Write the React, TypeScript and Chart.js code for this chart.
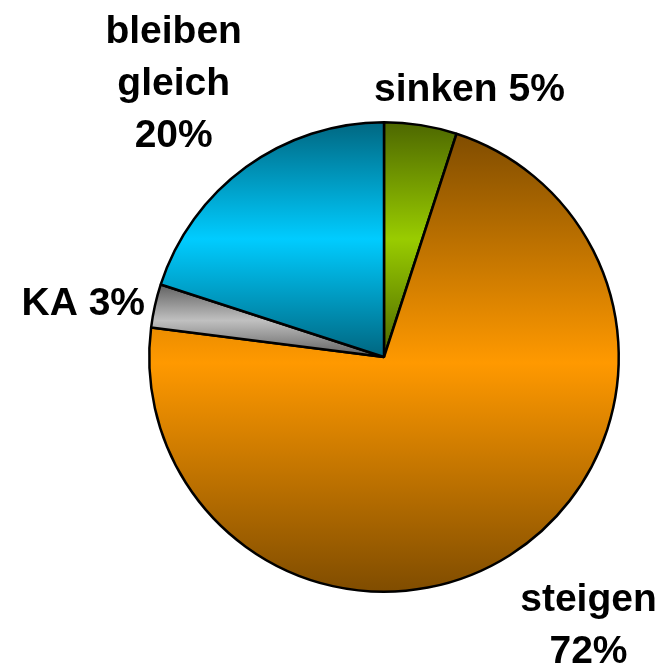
import React, { useEffect, useRef } from "react";
import { Chart, registerables } from "chart.js";

Chart.register(...registerables);

// ---- data ----
const categories = ["sinken", "steigen", "KA", "bleiben gleich"];
const values = [5, 72, 3, 20];
const labelLines = [["sinken 5%"], ["steigen", "72%"], ["KA 3%"], ["bleiben", "gleich", "20%"]];

// ---- styles ----
const brightColors = ["#99cc00", "#ff9900", "#c0c0c0", "#00ccff"];
const darkColors = ["#4c6600", "#7f4c00", "#606060", "#006680"];
// label anchor (centre x, first baseline y) relative to pie centre, in units of the radius
const labelAnchors = [
  [0.364, -1.091],
  [0.871, 1.082],
  [-1.281, -0.178],
  [-0.896, -1.336],
];
const LINE_HEIGHT = 52;
const FONT = "bold 39px 'Liberation Sans', Arial, sans-serif";

function sliceYRange(cy: number, r: number, a0: number, a1: number) {
  let yMin = Math.min(cy, cy + r * Math.sin(a0), cy + r * Math.sin(a1));
  let yMax = Math.max(cy, cy + r * Math.sin(a0), cy + r * Math.sin(a1));
  const inRange = (t: number) => {
    const twoPi = Math.PI * 2;
    let x = t;
    while (x < a0) x += twoPi;
    return x <= a1;
  };
  if (inRange(-Math.PI / 2)) yMin = cy - r;
  if (inRange(Math.PI / 2)) yMax = cy + r;
  return [yMin, yMax];
}

const labelPlugin = {
  id: "sliceLabels",
  afterDraw(chart: any) {
    const meta = chart.getDatasetMeta(0);
    const ctx = chart.ctx;
    ctx.save();
    ctx.font = FONT;
    ctx.fillStyle = "#000";
    ctx.textAlign = "center";
    ctx.textBaseline = "alphabetic";
    meta.data.forEach((el: any, i: number) => {
      const r = el.outerRadius;
      const x = el.x + labelAnchors[i][0] * r;
      const y = el.y + labelAnchors[i][1] * r;
      labelLines[i].forEach((line, j) => ctx.fillText(line, x, y + j * LINE_HEIGHT));
    });
    ctx.restore();
  },
};

export default function App() {
  const ref = useRef<HTMLCanvasElement | null>(null);
  useEffect(() => {
    if (!ref.current) return;
    const total = values.reduce((a, b) => a + b, 0);
    const chart = new Chart(ref.current, {
      type: "pie",
      data: {
        labels: categories,
        datasets: [
          {
            data: values,
            backgroundColor: (c: any) => {
              const i = c.dataIndex;
              if (i === undefined) return brightColors[0];
              const area = c.chart.chartArea;
              if (!area) return brightColors[i];
              const cx = (area.left + area.right) / 2;
              const cy = (area.top + area.bottom) / 2;
              const r = Math.min(area.right - area.left, area.bottom - area.top) / 2;
              let cum = 0;
              for (let k = 0; k < i; k++) cum += values[k];
              const a0 = -Math.PI / 2 + (cum / total) * Math.PI * 2;
              const a1 = a0 + (values[i] / total) * Math.PI * 2;
              const [y0, y1] = sliceYRange(cy, r, a0, a1);
              const g = c.chart.ctx.createLinearGradient(cx, y0, cx, y1);
              g.addColorStop(0, darkColors[i]);
              g.addColorStop(0.5, brightColors[i]);
              g.addColorStop(1, darkColors[i]);
              return g;
            },
            borderColor: "#000",
            borderWidth: 2.5,
            hoverOffset: 0,
          },
        ],
      },
      options: {
        animation: false,
        responsive: true,
        maintainAspectRatio: false,
        events: [],
        layout: { padding: { left: 148, top: 121, right: 49, bottom: 76 } },
        plugins: { legend: { display: false }, tooltip: { enabled: false } },
      },
      plugins: [labelPlugin],
    });
    return () => chart.destroy();
  }, []);
  return (
    <div style={{ position: "absolute", left: 0, top: 0, width: 669, height: 669, background: "#fff" }}>
      <canvas ref={ref} />
    </div>
  );
}
